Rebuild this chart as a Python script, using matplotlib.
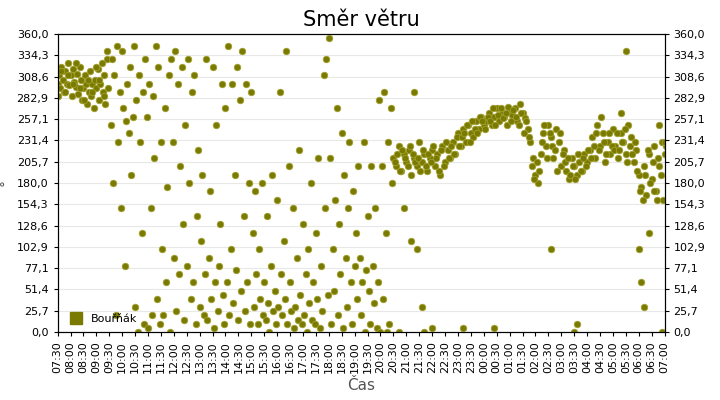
import matplotlib
matplotlib.use("Agg")
import matplotlib.pyplot as plt
from matplotlib.lines import Line2D
import numpy as np

series_name = "Bouřňák"
xa = [7.5,7.55,7.6,7.65,7.7,7.75,7.8,7.85,7.9,7.95,8.0,8.05,8.1,8.15,8.2,8.25,8.3,8.35,8.4,8.45,8.5,8.55,8.6,8.65,8.7,8.75,8.8,8.85,8.9,8.95,9.0,9.05,9.1,9.15,9.2,9.25,9.3,9.35,9.4,9.45,
      7.52,7.62,7.78,7.92,8.08,8.22,8.38,8.52,8.68,8.82,8.98,9.12,9.28,9.42]
ya = [300,310,295,320,305,290,315,300,325,298,310,285,318,302,296,312,288,320,305,280,295,310,300,275,290,315,285,300,270,305,295,318,280,300,325,290,310,275,330,295,
      285,315,290,310,300,325,295,280,305,290,320,305,285,340]
pb = [(9.55,250),(9.6,330),(9.65,180),(9.7,310),(9.75,20),(9.8,345),(9.85,230),(9.9,290),(9.95,150),(10.0,340),(10.05,270),(10.1,80),(10.15,255),(10.2,300),(10.25,240),(10.3,320),(10.35,190),(10.4,260),(10.45,345),(10.5,30),(10.55,280),(10.6,0),(10.65,310),(10.7,230),(10.75,120),(10.8,290),(10.85,10),(10.9,330),(10.95,260),(11.0,5),(11.05,300),(11.1,150),(11.15,20),(11.2,285),(11.25,210),(11.3,345),(11.35,40),(11.4,320),(11.45,10),(11.5,230),(11.55,100),(11.6,20),(11.65,270),(11.7,60),(11.75,175),(11.8,310),(11.85,0),(11.9,330),(11.95,230),(12.0,90),(12.05,340),(12.1,25),(12.15,300),(12.2,70),(12.25,200),(12.3,320),(12.35,130),(12.4,15),(12.45,250),(12.5,80),(12.55,330),(12.6,180),(12.65,40),(12.7,290),(12.75,60),(12.8,310),(12.85,10),(12.9,140),(12.95,220),(13.0,30),(13.05,110),(13.1,190),(13.15,20),(13.2,70),(13.25,330),(13.3,15),(13.35,90),(13.4,170),(13.45,40),(13.5,320),(13.55,5),(13.6,60),(13.65,250),(13.7,25),(13.75,80),(13.8,130),(13.85,300),(13.9,45),(13.95,10),(14.0,270),(14.05,60),(14.1,345),(14.15,20),(14.2,100),(14.25,300),(14.3,35),(14.35,190),(14.4,75),(14.45,320),(14.5,15),(14.55,280),(14.6,50),(14.65,340),(14.7,140),(14.75,25),(14.8,300),(14.85,60),(14.9,180),(14.95,10),(15.0,290),(15.05,120),(15.1,30),(15.15,170),(15.2,70),(15.25,10),(15.3,100),(15.35,40),(15.4,180),(15.45,20),(15.5,60),(15.55,15),(15.6,140),(15.65,35),(15.7,0),(15.75,80),(15.8,190),(15.85,25),(15.9,50),(15.95,10),(16.0,160),(16.05,30),(16.1,290),(16.15,70),(16.2,20),(16.25,110),(16.3,40),(16.35,340),(16.4,10),(16.45,200),(16.5,60),(16.55,25),(16.6,150),(16.65,5),(16.7,30),(16.75,90),(16.8,15),(16.85,220),(16.9,45),(16.95,10),(17.0,130),(17.05,20),(17.1,70),(17.15,0),(17.2,100),(17.25,35),(17.3,180),(17.35,15),(17.4,60),(17.45,10),(17.5,120),(17.55,40),(17.6,210),(17.65,5),(17.7,80),(17.75,25),(17.8,310),(17.85,150),(17.9,330),(17.95,45),(18.0,355),(18.05,210),(18.1,10),(18.15,100),(18.2,50),(18.25,160),(18.3,270),(18.35,20),(18.4,130),(18.45,70),(18.5,240),(18.55,5),(18.6,190),(18.65,90),(18.7,30),(18.75,150),(18.8,230),(18.85,60),(18.9,10),(18.95,170),(19.0,80),(19.05,120),(19.1,40),(19.15,200),(19.2,90),(19.25,20),(19.3,60),(19.35,230),(19.4,0),(19.45,75),(19.5,140),(19.55,50),(19.6,10),(19.65,200),(19.7,80),(19.75,35),(19.8,150),(19.85,5),(19.9,60),(19.95,280),(20.0,0),(20.05,200),(20.1,40),(20.15,290),(20.2,120),(20.25,0),(20.3,230),(20.35,10),(20.4,270),(20.45,180)]
yc1 = [210,200,225,195,215,205,220,190,210,200,230,205,215,195,210,220,
       200,215,190,225,205,220,210,230,215,240,
       225,245,230,250,240,235,255,245,260,250,
       255,265,250,260,270,255,265,260,250,268,
       262,270,255,275,265,258,245,230,210,190,
       180,215,240,225,250,235,210,245,230,200,
       220,195,185,210,200,190,205,195,215,205,
       220,235,210,250,225,240,205,230,215,245,
       225,210,240,230,215,250,235,205,220,190,
       175,200,165,215,185,225,160,200,230,215]
yc2 = [205,215,195,220,210,200,225,215,205,210,195,220,200,215,205,225,
       210,195,220,200,230,210,225,215,235,225,
       235,240,250,230,255,245,240,260,255,245,
       260,255,270,250,262,270,258,265,272,255,
       268,260,250,265,240,255,235,200,185,205,
       195,230,250,210,240,225,220,195,240,215,
       205,210,190,200,185,215,195,210,200,220,
       210,225,240,220,260,230,215,240,225,220,
       240,220,230,245,205,225,215,230,195,170,
       160,190,220,180,205,170,210,190,160,225]
po = [(21.3,290),(21.4,100),(21.6,30),(21.7,0),(22.0,5),(20.7,0),(20.9,150),(21.2,110),(23.2,5),(27.5,0),(27.6,10),(29.3,265),(29.5,340),(30.0,100),(30.1,60),(30.2,30),(30.4,120),(30.6,170),(30.9,0),(31.0,230),(26.6,100),(24.4,5),(30.8,250)]

x = list(xa) + [p[0] for p in pb] + [20.5 + 0.1*i for i in range(len(yc1))] + [20.55 + 0.1*i for i in range(len(yc2))] + [p[0] for p in po]
y = list(ya) + [p[1] for p in pb] + yc1 + yc2 + [p[1] for p in po]

ticks_h = np.arange(7.5, 31.01, 0.5)
tick_labels = [f"{int(h)%24:02d}:{int(round((h%1)*60)):02d}" for h in ticks_h]
yt = np.linspace(0, 360, 15)

fig = plt.figure(figsize=(7.2, 4.0), dpi=100)
ax = fig.add_axes([0.08, 0.17, 0.843, 0.745])
ax.scatter(x, y, s=22, color='#7a7a00', edgecolors='#a0a030', linewidths=0.6, zorder=3)
ax.set_xlim(7.5, 31)
ax.set_ylim(0, 360)
ax.set_yticks(yt)
ax.set_yticklabels([f"{v:.1f}".replace('.', ',') for v in yt], fontsize=8)
ax.set_xticks(ticks_h)
ax.set_xticklabels(tick_labels, rotation=90, fontsize=8)
ax.grid(axis='y', color='#e8e8e8', lw=0.8)
ax.set_axisbelow(True)
ax.tick_params(direction='out', length=3)
ax2 = ax.twinx()
ax2.set_ylim(0, 360)
ax2.set_yticks(yt)
ax2.set_yticklabels([f"{v:.1f}".replace('.', ',') for v in yt], fontsize=8)
ax2.tick_params(length=3)
ax.set_ylabel("°", fontsize=10, color='#555555', labelpad=2)
ax.set_xlabel("Čas", fontsize=11, color='#555555')
ax.set_title("Směr větru", fontsize=15)
handle = Line2D([], [], marker='s', linestyle='none', color='#7a7a00', markersize=9)
ax.legend([handle], [series_name], loc='lower left', frameon=False, fontsize=8, handletextpad=0.3, borderaxespad=0.3)
fig.savefig("out.png")
